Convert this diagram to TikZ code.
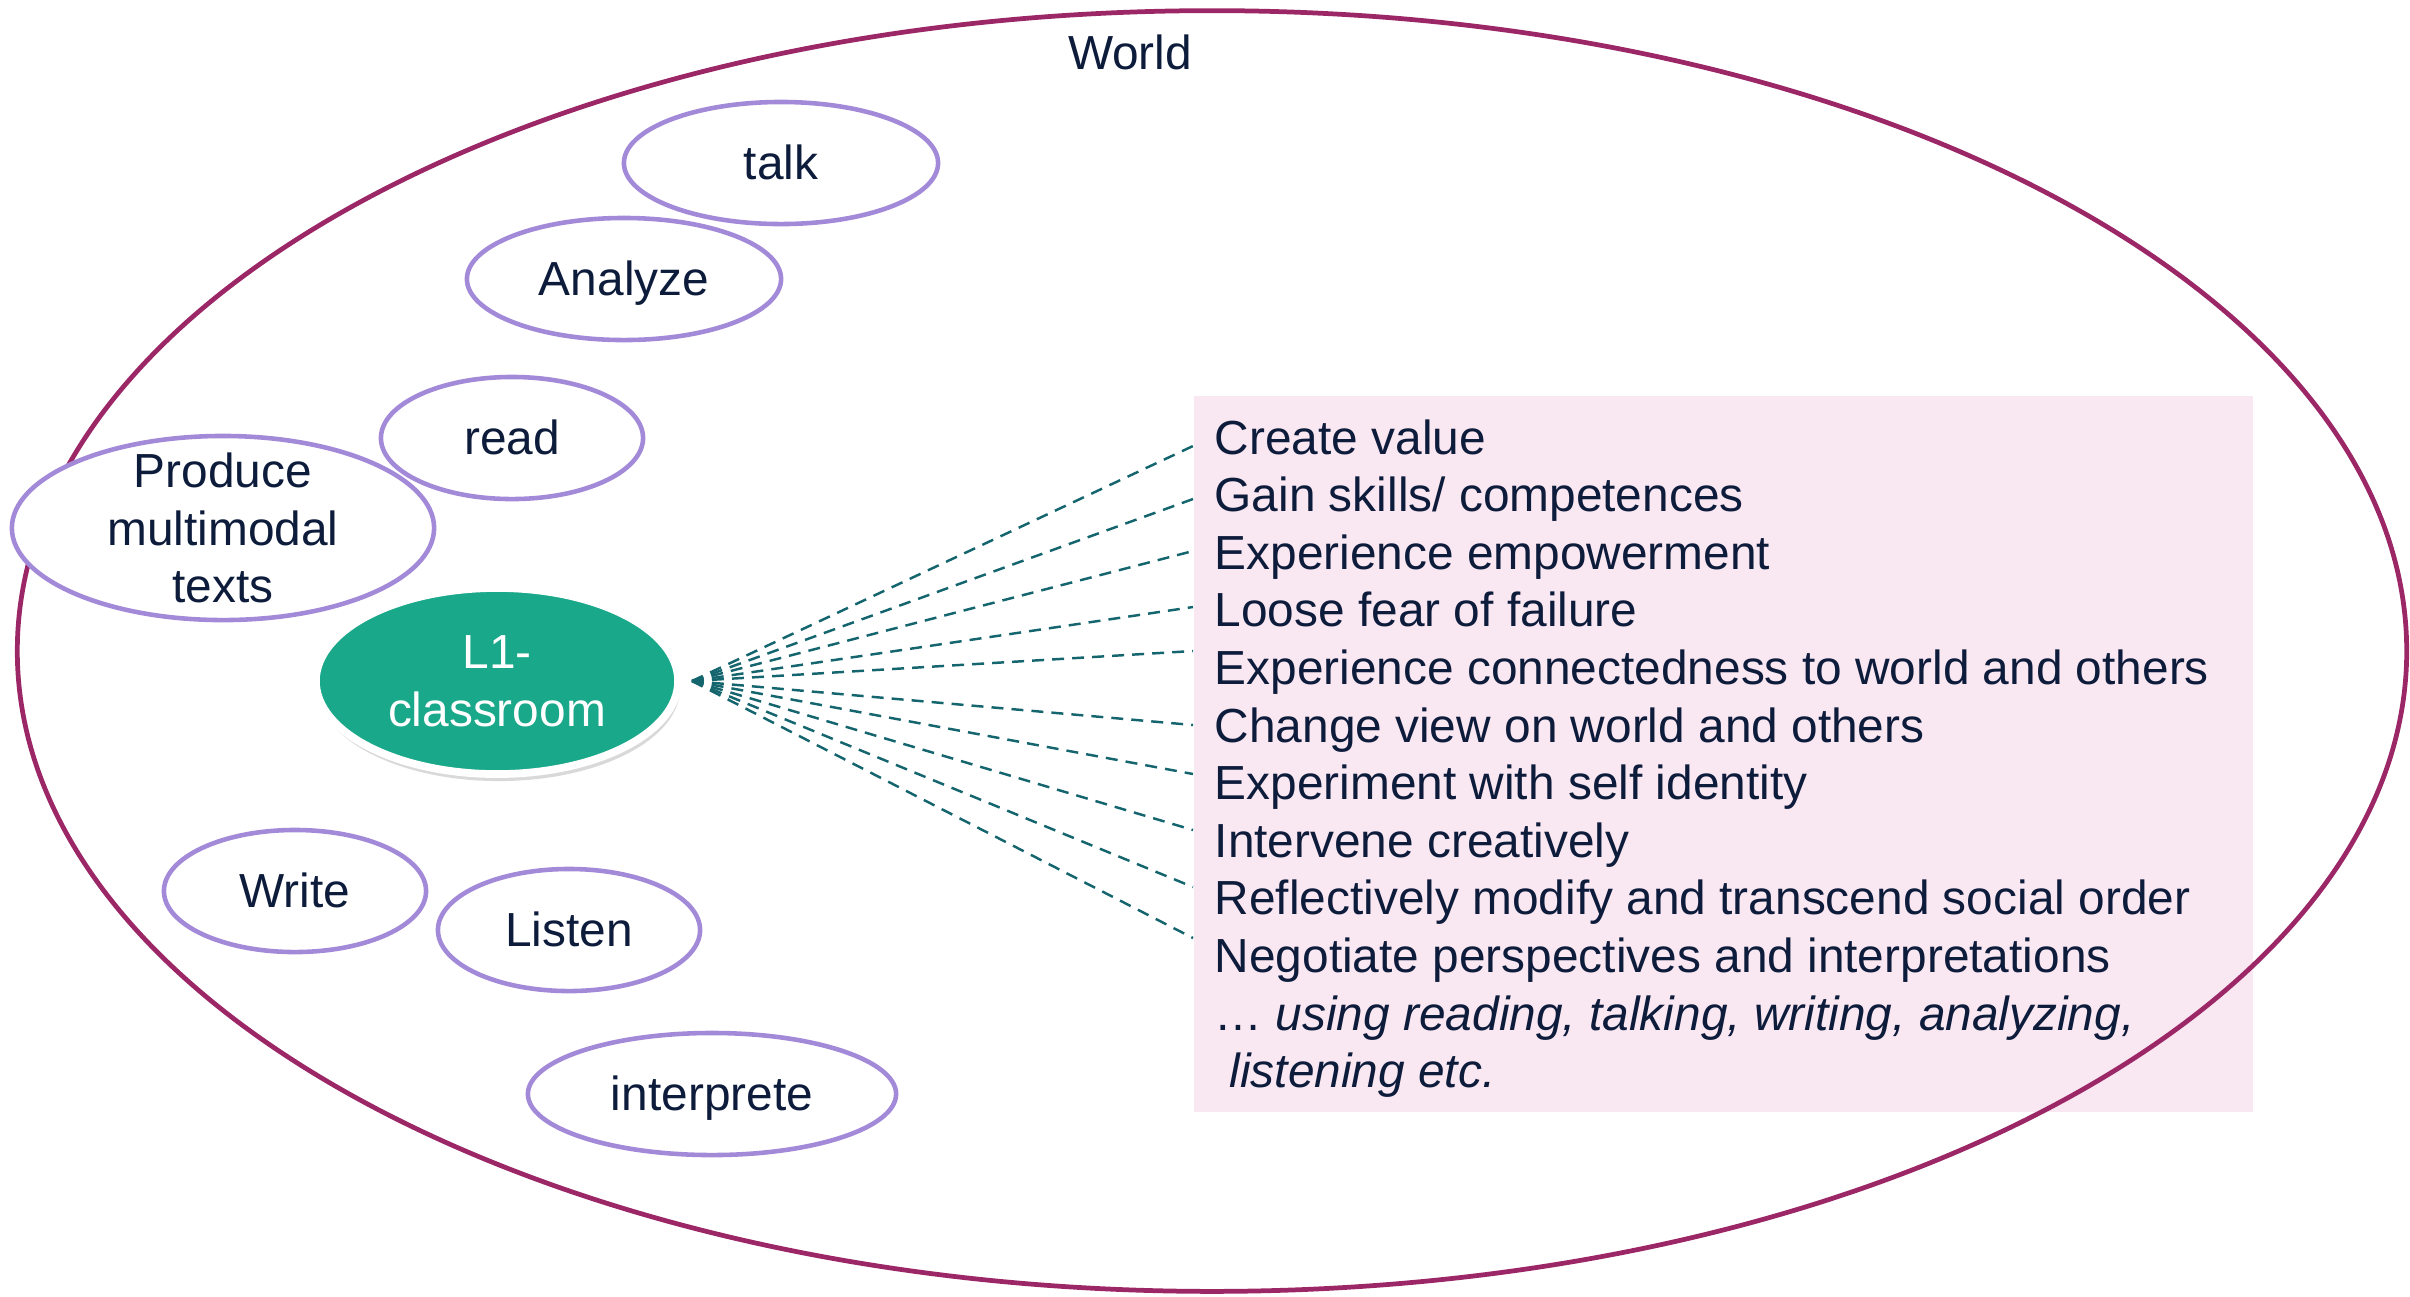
\documentclass[tikz,border=0pt]{standalone}
\usepackage{fontspec}
\setmainfont{Liberation Sans}
\usetikzlibrary{shapes.geometric,shadows}
\definecolor{ink}{HTML}{0E1C3C}
\definecolor{lav}{HTML}{A38AD9}
\definecolor{worldc}{HTML}{9C2767}
\definecolor{pinkbg}{HTML}{F9E7F2}
\definecolor{tealf}{HTML}{1AA88A}
\definecolor{dteal}{HTML}{15656E}
\begin{document}
\begin{tikzpicture}[x=0.01cm,y=-0.01cm,
  txt/.style={text=ink,font=\fontsize{13.6}{16.4}\selectfont},
  skill/.style={ellipse,draw=lav,line width=1.3pt,fill=white,inner sep=0pt,txt,align=center},
  oneline/.style={text height=0.92em,text depth=0pt},
  item/.style={txt,anchor=base west,inner sep=0pt},
  conn/.style={draw=dteal,line width=0.7pt,dash pattern=on 3.4pt off 2.3pt}]
\useasboundingbox (0,0) rectangle (2410,1296);
% pink box
\node[rectangle,fill=pinkbg,minimum width=10.59cm,minimum height=7.16cm,anchor=north west,inner sep=0pt] (box) at (1193,395) {};
% world
\node[ellipse,draw=worldc,line width=1.35pt,minimum width=23.88cm,minimum height=12.8cm,inner sep=0pt] (world) at (1212,651) {};
\node[txt] (worldlabel) at (1130,52) {World};
% skills
\node[skill,oneline,minimum width=3.14cm,minimum height=1.22cm] (talk) at (781,163) {talk};
\node[skill,oneline,minimum width=3.14cm,minimum height=1.22cm] (analyze) at (624,279) {Analyze};
\node[skill,oneline,minimum width=2.62cm,minimum height=1.22cm] (read) at (512,438) {read};
\node[skill,inner ysep=-4pt,minimum width=4.22cm,minimum height=1.84cm] (produce) at (223,528) {Produce\\multimodal\\texts};
\node[skill,oneline,minimum width=2.62cm,minimum height=1.22cm] (write) at (295,891) {Write};
\node[skill,oneline,minimum width=2.62cm,minimum height=1.22cm] (listen) at (569,930) {Listen};
\node[skill,oneline,minimum width=3.68cm,minimum height=1.22cm] (interp) at (712,1094) {interprete};
% L1 classroom
\node[ellipse,fill=tealf,draw=white,line width=2.2pt,minimum width=3.62cm,minimum height=1.86cm,inner sep=0pt,
  drop shadow={opacity=0.3,shadow xshift=0.02cm,shadow yshift=-0.07cm},txt,text=white,align=center] (l1) at (497,681) {L1-\\classroom};
% items
\node[item] (i1) at (1214,454) {Create value};
\node[item] (i2) at (1214,511.6) {Gain skills/ competences};
\node[item] (i3) at (1214,569.2) {Experience empowerment};
\node[item] (i4) at (1214,626.8) {Loose fear of failure};
\node[item] (i5) at (1214,684.4) {Experience connectedness to world and others};
\node[item] (i6) at (1214,742) {Change view on world and others};
\node[item] (i7) at (1214,799.6) {Experiment with self identity};
\node[item] (i8) at (1214,857.2) {Intervene creatively};
\node[item] (i9) at (1214,914.8) {Reflectively modify and transcend social order};
\node[item] (i10) at (1214,972.4) {Negotiate perspectives and interpretations};
\node[item] (i11) at (1214,1030) {… \textit{using reading, talking, writing, analyzing,}};
\node[item] (i12) at (1229,1087.6) {\textit{listening etc.}};
% connector ends
\coordinate (e1) at (1193,446);
\coordinate (e2) at (1193,499);
\coordinate (e3) at (1193,551);
\coordinate (e4) at (1193,607);
\coordinate (e5) at (1193,651);
\coordinate (e6) at (1193,725);
\coordinate (e7) at (1193,774);
\coordinate (e8) at (1193,830);
\coordinate (e9) at (1193,887);
\coordinate (e10) at (1193,938);
\foreach \k in {1,...,10} {\draw[conn] ([xshift=0.1cm]l1.east) -- (e\k);}
\end{tikzpicture}
\end{document}
